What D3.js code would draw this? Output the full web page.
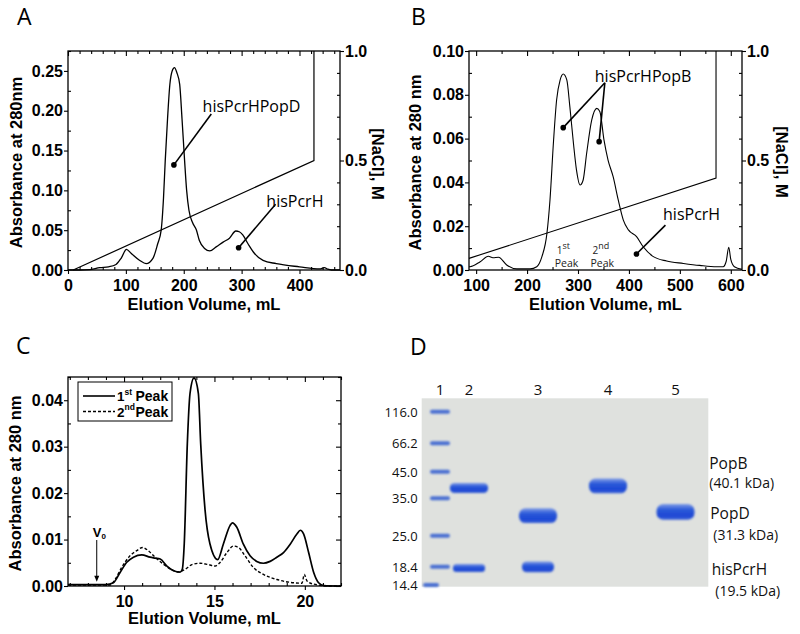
<!DOCTYPE html>
<html><head><meta charset="utf-8">
<script src="https://cdn.jsdelivr.net/npm/d3@7"></script>
<style>
html,body{margin:0;padding:0;background:#fff;}
svg{display:block;}
</style></head><body>
<svg id="fig" width="800" height="634"></svg>
<script>
// ---------------- DATA ----------------
// Panel A: absorbance (mL, A280) and NaCl gradient (mL, M)
const aCurve = [[0,0],[20,0],[37,0.0005],[55,0.003],[70,0.004],[83,0.007],[92,0.015],[101,0.026],[109,0.021],[124,0.012],[135,0.008],[147,0.015],[155,0.033],[161,0.05],[165,0.09],[168,0.137],[172,0.19],[176,0.233],[180,0.25],[184,0.254],[188,0.248],[193,0.233],[197,0.19],[201.5,0.137],[205,0.1],[209,0.075],[215,0.06],[222,0.05],[227,0.037],[236,0.027],[245,0.024],[256,0.029],[268,0.035],[279,0.04],[290,0.049],[296,0.048],[302,0.044],[311,0.033],[322,0.021],[337,0.012],[360,0.008],[400,0.004],[435,0.0013],[443,0.003],[449,0.001],[455,0],[470,0]];
const aNaCl = [[9,0],[425,0.5],[425,1.0]];
const aXTicks = [0,100,200,300,400];
const aYTicks = [0,0.05,0.10,0.15,0.20,0.25];
const naclTicks = [0,0.5,1.0];
const aNotes = [
  {label:"hisPcrHPopD", dot:[183,0.132], end:[247.6,0.196], text:[232.6,0.198]},
  {label:"hisPcrH", dot:[294.8,0.028], end:[358.7,0.0825], text:[342.7,0.079]}
];

// Panel B
const bCurve = [[86,0.0015],[88,0.0015],[108,0.0038],[124,0.0063],[133,0.0056],[144,0.0058],[160,0.0023],[180,0.0005],[206,0.0005],[219,0.0015],[229,0.006],[239,0.0167],[245,0.032],[252,0.059],[258,0.0776],[265,0.0868],[271,0.0895],[278,0.0868],[284,0.0746],[291,0.058],[297,0.0457],[304,0.0388],[310,0.041],[317,0.0533],[327,0.0685],[337,0.0738],[343,0.0723],[351,0.0594],[359,0.0502],[369,0.0426],[379,0.032],[389,0.0228],[399,0.0183],[415,0.0152],[428,0.0106],[448,0.0061],[474,0.0041],[507,0.003],[539,0.0021],[572,0.0015],[585,0.0015],[591,0.004],[596,0.0104],[600,0.0048],[607,0.0015],[622,0.0003]];
const bNaCl = [[86,0.053],[571,0.42],[571,1.0]];
const bXTicks = [100,200,300,400,500,600];
const bYTicks = [0,0.02,0.04,0.06,0.08,0.10];
const bNotes = [
  {label:"hisPcrHPopB", dots:[[271,0.065],[341.5,0.0586]], end:[352.7,0.0855], text:[333,0.086]},
  {label:"hisPcrH", dots:[[414.8,0.0073]], end:[471.7,0.0205], text:[467,0.0228]}
];
const bPeakLabels = [{num:"1", sup:"st", at:[279,0.0018]},{num:"2", sup:"nd", at:[349,0.0018]}];

// Panel C: size exclusion of 1st and 2nd peaks
const cPeak1 = [[6.9,0.0003],[9.0,0.0003],[9.41,0.0007],[9.78,0.0029],[10.15,0.0051],[10.52,0.0062],[10.98,0.0067],[11.44,0.0062],[11.72,0.006],[12.0,0.0058],[12.37,0.0043],[12.74,0.0033],[13.1,0.003],[13.22,0.0036],[13.33,0.0091],[13.5,0.0306],[13.65,0.0415],[13.87,0.0448],[14.11,0.0415],[14.24,0.0306],[14.48,0.0164],[14.75,0.0091],[15.18,0.0057],[15.49,0.009],[15.86,0.013],[15.99,0.0136],[16.23,0.0127],[16.6,0.009],[16.97,0.0065],[17.34,0.0053],[17.71,0.0049],[18.08,0.0053],[18.45,0.0062],[18.82,0.0072],[19.19,0.009],[19.56,0.0112],[19.75,0.012],[19.93,0.0112],[20.21,0.0072],[20.49,0.0029],[20.76,0.0007],[21.04,0.0001],[22,0]];
const cPeak2 = [[6.9,0.0002],[9.2,0.0002],[9.5,0.0014],[9.87,0.004],[10.33,0.0065],[10.7,0.0076],[11.03,0.0083],[11.34,0.0076],[11.72,0.0062],[12.18,0.0047],[12.64,0.0035],[13.0,0.003],[13.38,0.0036],[13.75,0.0046],[14.21,0.0049],[14.67,0.0046],[15.04,0.0043],[15.32,0.0051],[15.69,0.0072],[16.05,0.0086],[16.33,0.0083],[16.69,0.0065],[17.15,0.004],[17.71,0.0025],[18.45,0.0014],[19.38,0.0007],[19.84,0.0006],[19.97,0.0025],[20.12,0.0011],[20.49,0.0004],[21.4,0],[22,0]];
const cXTicks = [10,15,20];
const cYTicks = [0,0.01,0.02,0.03,0.04];
const cLegend = [{num:"1", sup:"st", name:"Peak", dash:null},{num:"2", sup:"nd", name:"Peak", dash:"3,2"}];
const cVoid = {volume:8.49, from:0.0099, to:0.0009};

// Panel D: SDS-PAGE gel
const gelLanes = ["1","2","3","4","5"];
const markerKDa = ["116.0","66.2","45.0","35.0","25.0","18.4","14.4"];
const markerMobility = [0.071,0.239,0.39,0.531,0.729,0.894,0.991];
const sampleBands = [
  {lane:"2", protein:"PopB", mobility:0.476, amount:0.62},
  {lane:"2", protein:"hisPcrH", mobility:0.901, amount:0.5},
  {lane:"3", protein:"PopD", mobility:0.623, amount:0.92},
  {lane:"3", protein:"hisPcrH", mobility:0.895, amount:0.68},
  {lane:"4", protein:"PopB", mobility:0.465, amount:0.92},
  {lane:"5", protein:"PopD", mobility:0.603, amount:0.98}
];
const gelLabels = [
  {text:"PopB", mobility:0.375, size:15.5, dx:1},
  {text:"(40.1 kDa)", mobility:0.476, size:14, dx:1},
  {text:"PopD", mobility:0.641, size:15.5, dx:2},
  {text:"(31.3 kDa)", mobility:0.752, size:14, dx:5},
  {text:"hisPcrH", mobility:0.938, size:15.5, dx:3.5},
  {text:"(19.5 kDa)", mobility:1.049, size:14, dx:7}
];

// ---------------- DRAWING ----------------
const svg = d3.select("#fig");
const BOLD = "'Liberation Sans', Arial, Helvetica, sans-serif";
const SANS = "'Open Sans', 'Liberation Sans', sans-serif";

function minorOf(domain, step, majors) {
  const out = [];
  const start = Math.ceil(domain[0]/step - 1e-9)*step;
  for (let v = start; v <= domain[1] + 1e-9; v += step) {
    if (!majors.some(m => Math.abs(m - v) < step*1e-3)) out.push(v);
  }
  return out;
}

function axis(g, ax, values, size, fmt, transform, pad) {
  ax.tickValues(values).tickSizeInner(size).tickSizeOuter(0).tickPadding(pad||0).tickFormat(fmt || (() => ""));
  const s = g.append("g").attr("transform", transform).call(ax);
  s.select(".domain").remove();
  s.selectAll("line").attr("stroke","#000").attr("stroke-width",1.1);
  s.selectAll("text").attr("font-family",BOLD).attr("font-weight","bold").attr("font-size",16).attr("fill","#000");
  return s;
}

function panel(c) {
  const x = d3.scaleLinear(c.xDomain, [c.left, c.right]);
  const y = d3.scaleLinear(c.yDomain, [c.bottom, c.top]);
  const g = svg.append("g");
  const xMin = minorOf(c.xDomain, c.xMinorStep, c.xTicks);
  const yMin = minorOf(c.yDomain, c.yMinorStep, c.yTicks);
  axis(g, d3.axisBottom(x), c.xTicks, 4, d3.format("d"), `translate(0,${c.bottom})`, 5.5);
  axis(g, d3.axisBottom(x), xMin, -3, null, `translate(0,${c.bottom})`);
  axis(g, d3.axisTop(x), c.xTicks, -5, null, `translate(0,${c.top})`);
  axis(g, d3.axisTop(x), xMin, -3, null, `translate(0,${c.top})`);
  axis(g, d3.axisLeft(y), c.yTicks, 4, d3.format(".2f"), `translate(${c.left},0)`, 1);
  axis(g, d3.axisLeft(y), yMin, -3, null, `translate(${c.left},0)`);
  let y2 = null;
  if (c.y2) {
    y2 = d3.scaleLinear([0,1], [c.bottom, c.top]);
    axis(g, d3.axisRight(y2), naclTicks, 4, d3.format(".1f"), `translate(${c.right},0)`, 1);
    axis(g, d3.axisRight(y2), minorOf([0,1], 0.1, naclTicks), -3, null, `translate(${c.right},0)`);
    g.append("text").attr("transform", `translate(${c.y2TitleX},${c.y2TitleY}) rotate(90)`)
      .attr("text-anchor","middle").attr("dominant-baseline","central")
      .attr("font-family",BOLD).attr("font-weight","bold").attr("font-size",16.5).text("[NaCl], M");
  } else {
    axis(g, d3.axisRight(y), c.yTicks, -5, null, `translate(${c.right},0)`);
    axis(g, d3.axisRight(y), yMin, -3, null, `translate(${c.right},0)`);
  }
  g.append("rect").attr("x",c.left).attr("y",c.top).attr("width",c.right-c.left).attr("height",c.bottom-c.top)
    .attr("fill","none").attr("stroke","#000").attr("stroke-width",1.3);
  g.append("text").attr("transform", `translate(${c.yTitleX},${(c.top+c.bottom)/2+2}) rotate(-90)`)
    .attr("text-anchor","middle").attr("dominant-baseline","central")
    .attr("font-family",BOLD).attr("font-weight","bold").attr("font-size",16.5).text(c.yTitle);
  g.append("text").attr("x",(c.left+c.right)/2).attr("y",c.xTitleY).attr("text-anchor","middle")
    .attr("font-family",BOLD).attr("font-weight","bold").attr("font-size",16.5).text("Elution Volume, mL");
  g.append("text").attr("x",c.letterX).attr("y",c.letterY).attr("font-family",SANS).attr("font-size",23).text(c.letter);
  return {g, x, y, y2};
}

const lineGen = (x, y, curve) => d3.line().x(d => x(d[0])).y(d => y(d[1])).curve(curve || d3.curveMonotoneX);

function note(g, x, y, n, dots) {
  const end = [x(n.end[0]), y(n.end[1])];
  dots.forEach(d => {
    g.append("line").attr("x1",end[0]).attr("y1",end[1]).attr("x2",x(d[0])).attr("y2",y(d[1]))
      .attr("stroke","#000").attr("stroke-width",1.6);
    g.append("circle").attr("cx",x(d[0])).attr("cy",y(d[1])).attr("r",2.8).attr("fill","#000");
  });
  g.append("text").attr("x",x(n.text[0])).attr("y",y(n.text[1])).attr("font-family",SANS)
    .attr("font-size",16).attr("fill","#000").text(n.label);
}

// ---- Panel A
const A = panel({left:68, right:340, top:51, bottom:270, xDomain:[0,470], yDomain:[0,0.275],
  xTicks:aXTicks, xMinorStep:20, yTicks:aYTicks, yMinorStep:0.025, y2:true, y2TitleX:378, y2TitleY:164,
  yTitle:"Absorbance at 280nm", yTitleX:16, xTitleY:310, letter:"A", letterX:17, letterY:25});
A.g.append("path").datum(aNaCl).attr("d", lineGen(A.x, A.y2, d3.curveLinear)).attr("fill","none").attr("stroke","#000").attr("stroke-width",1.2);
A.g.append("path").datum(aCurve).attr("d", lineGen(A.x, A.y)).attr("fill","none").attr("stroke","#000").attr("stroke-width",1.3);
aNotes.forEach(n => note(A.g, A.x, A.y, n, [n.dot]));

// ---- Panel B
const B = panel({left:469, right:742, top:51, bottom:270, xDomain:[86,622], yDomain:[0,0.10],
  xTicks:bXTicks, xMinorStep:50, yTicks:bYTicks, yMinorStep:0.01, y2:true, y2TitleX:782, y2TitleY:162,
  yTitle:"Absorbance at 280 nm", yTitleX:415, xTitleY:310, letter:"B", letterX:411, letterY:25});
B.g.append("path").datum(bNaCl).attr("d", lineGen(B.x, B.y2, d3.curveLinear)).attr("fill","none").attr("stroke","#000").attr("stroke-width",1.1);
B.g.append("path").datum(bCurve).attr("d", lineGen(B.x, B.y)).attr("fill","none").attr("stroke","#000").attr("stroke-width",1.1);
bNotes.forEach(n => note(B.g, B.x, B.y, n, n.dots));
bPeakLabels.forEach(p => {
  const px = B.x(p.at[0]) - 12.5, py = B.y(p.at[1]) + 1;
  const t = B.g.append("text").attr("x", px+2).attr("y", py-13.5).attr("font-family",SANS).attr("font-size",10).attr("fill","#222");
  t.append("tspan").text(p.num);
  t.append("tspan").attr("font-size",9).attr("dy",-4.5).text(p.sup);
  B.g.append("text").attr("x", px).attr("y", py).attr("font-family",SANS).attr("font-size",10.5).attr("fill","#222").text("Peak");
});

// ---- Panel C
const C = panel({left:68, right:341, top:377, bottom:586, xDomain:[6.9,22], yDomain:[0,0.045],
  xTicks:cXTicks, xMinorStep:1, yTicks:cYTicks, yMinorStep:0.005, y2:false,
  yTitle:"Absorbance at 280 nm", yTitleX:15, xTitleY:623.5, letter:"C", letterX:16, letterY:354});
C.g.append("path").datum(cPeak2).attr("d", lineGen(C.x, C.y)).attr("fill","none").attr("stroke","#000").attr("stroke-width",1.4).attr("stroke-dasharray","3,2");
C.g.append("path").datum(cPeak1).attr("d", lineGen(C.x, C.y)).attr("fill","none").attr("stroke","#000").attr("stroke-width",1.7);
// legend
const lg = C.g.append("g").attr("transform", `translate(${C.x.range()[0]+10},${C.y.range()[1]+5})`);
lg.append("rect").attr("width",94).attr("height",39).attr("fill","#fff").attr("stroke","#000").attr("stroke-width",1);
cLegend.forEach((e, i) => {
  const yy = 14 + i*15.5;
  const ln = lg.append("line").attr("x1",5).attr("x2",37).attr("y1",yy).attr("y2",yy).attr("stroke","#000").attr("stroke-width",1.6);
  if (e.dash) ln.attr("stroke-dasharray", e.dash).attr("stroke-width",1.3);
  const t = lg.append("text").attr("x",39).attr("y",yy+5).attr("font-family",BOLD).attr("font-weight","bold").attr("font-size",13.5);
  t.append("tspan").text(e.num);
  t.append("tspan").attr("font-size",8.5).attr("dy",-6.5).text(e.sup);
  t.append("tspan").attr("x",57.5).attr("dy",6.5).attr("font-size",14).text(e.name);
});
// V0 arrow
const vx = C.x(cVoid.volume);
C.g.append("line").attr("x1",vx).attr("x2",vx).attr("y1",C.y(cVoid.from)).attr("y2",C.y(cVoid.to)-4).attr("stroke","#000").attr("stroke-width",1);
C.g.append("path").attr("d", `M${vx-2.5},${C.y(cVoid.to)-6}L${vx+2.5},${C.y(cVoid.to)-6}L${vx},${C.y(cVoid.to)}Z`).attr("fill","#000");
const vt = C.g.append("text").attr("x",vx-4).attr("y",C.y(cVoid.from)-3.5).attr("font-family",BOLD).attr("font-weight","bold").attr("font-size",13);
vt.append("tspan").text("V");
vt.append("tspan").attr("font-size",8).attr("dy",2.5).text("0");

// ---- Panel D: gel
const defs = svg.append("defs");
defs.append("filter").attr("id","soft").attr("x","-20%").attr("y","-60%").attr("width","140%").attr("height","220%")
  .append("feGaussianBlur").attr("stdDeviation",0.9);
const grad = defs.append("linearGradient").attr("id","band").attr("x1",0).attr("y1",0).attr("x2",0).attr("y2",1);
grad.append("stop").attr("offset","0%").attr("stop-color","#7e9be6");
grad.append("stop").attr("offset","35%").attr("stop-color","#2c5ad9");
grad.append("stop").attr("offset","75%").attr("stop-color","#1d47d4");
grad.append("stop").attr("offset","100%").attr("stop-color","#3a63d8");

const gel = {left:421.7, right:708.3, top:398.3, bottom:586.7};
const D = svg.append("g");
const gy = d3.scaleLinear([0,1], [gel.top, gel.bottom]);
const laneX = d3.scaleOrdinal(gelLanes, [440, 469, 538, 608, 675.5]);
D.append("text").attr("x",410).attr("y",355).attr("font-family",SANS).attr("font-size",23).text("D");
D.append("rect").attr("x",gel.left).attr("y",gel.top).attr("width",gel.right-gel.left).attr("height",gel.bottom-gel.top)
  .attr("fill","#dfe1de");
D.selectAll("text.lane").data(gelLanes).join("text").attr("class","lane")
  .attr("x", d => laneX(d)).attr("y", gel.top-3.5).attr("text-anchor","middle")
  .attr("font-family",SANS).attr("font-size",15).attr("fill","#111").text(d => d);
// marker ladder
D.selectAll("rect.mk").data(markerMobility).join("rect").attr("class","mk")
  .attr("x", (d,i) => laneX("1") - (i === markerMobility.length-1 ? 17 : 10)).attr("y", d => gy(d) - 2)
  .attr("width", (d,i) => i === markerMobility.length-1 ? 16 : 20).attr("height", 4).attr("rx",2)
  .attr("fill","#4a6fd2").attr("filter","url(#soft)");
D.selectAll("text.mw").data(markerKDa).join("text").attr("class","mw")
  .attr("x", gel.left-4).attr("y", (d,i) => gy(markerMobility[i])).attr("text-anchor","end")
  .attr("dominant-baseline","central").attr("font-family",SANS).attr("font-size",13).attr("fill","#111").text(d => d);
// sample bands
D.selectAll("rect.sb").data(sampleBands).join("rect").attr("class","sb")
  .attr("x", d => laneX(d.lane) - (d.protein === "hisPcrH" ? 16 : 19))
  .attr("y", d => gy(d.mobility) - d.amount*16/2)
  .attr("width", d => d.protein === "hisPcrH" ? 32 : 38)
  .attr("height", d => d.amount*16).attr("rx", d => d.amount*7)
  .attr("fill","url(#band)").attr("filter","url(#soft)");
D.selectAll("text.gl").data(gelLabels).join("text").attr("class","gl")
  .attr("x", d => gel.right + d.dx).attr("y", d => gy(d.mobility))
  .attr("font-family",SANS).attr("font-size", d => d.size).attr("fill","#111").text(d => d.text);
</script>
</body></html>
